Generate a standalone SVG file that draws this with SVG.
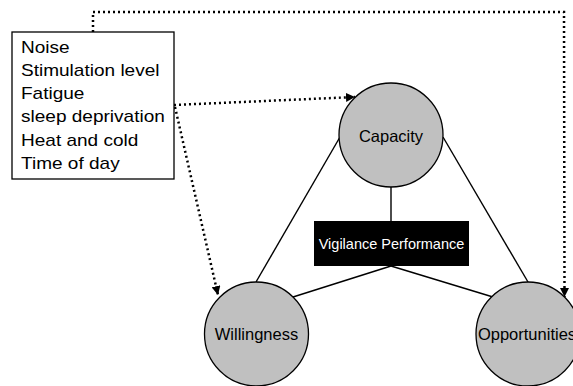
<svg xmlns="http://www.w3.org/2000/svg" width="573" height="386" viewBox="0 0 573 386">
<defs>
<marker id="ah" viewBox="0 0 10 10" refX="10" refY="5" markerWidth="9" markerHeight="9" markerUnits="userSpaceOnUse" orient="auto">
<path d="M0,0 L10,5 L0,10 z" fill="#000"/>
</marker>
<style>
.lbl{font-family:"Liberation Sans",Arial,sans-serif;fill:#000}
.circ{fill:#c0c0c0;stroke:#000;stroke-width:1.3}
.solid{stroke:#000;stroke-width:1.4;fill:none}
.dot{stroke:#000;stroke-width:2.5;fill:none;stroke-dasharray:2 3}
</style>
</defs>
<rect width="573" height="386" fill="#fff"/>
<g id="connectors">
<line class="solid" x1="340" y1="137" x2="256" y2="282"/>
<line class="solid" x1="443" y1="137" x2="528" y2="282"/>
<line class="solid" x1="391" y1="187" x2="391" y2="221"/>
<line class="solid" x1="391" y1="266" x2="293" y2="297"/>
<line class="solid" x1="391" y1="266" x2="493" y2="297"/>
<path class="dot" d="M93,32 L93,12 L564,12 L564.5,297" marker-end="url(#ah)"/>
<path class="dot" d="M174,105 L355,97" marker-end="url(#ah)"/>
<path class="dot" d="M175,107 L218,295" marker-end="url(#ah)"/>
</g>
<g id="factors">
<rect x="12" y="32" width="162" height="147" fill="#fff" stroke="#000" stroke-width="1.3"/>
<g transform="translate(21,0) scale(1.12,1)" class="lbl" font-size="17">
<text x="0" y="53">Noise</text>
<text x="0" y="76">Stimulation level</text>
<text x="0" y="99">Fatigue</text>
<text x="0" y="122">sleep deprivation</text>
<text x="0" y="146">Heat and cold</text>
<text x="0" y="169">Time of day</text>
</g>
</g>
<g id="capacity">
<circle class="circ" cx="391" cy="135" r="52"/>
<text class="lbl" x="391" y="142" font-size="16.5" text-anchor="middle">Capacity</text>
</g>
<g id="vigilance">
<rect x="314" y="221" width="155" height="45" fill="#000"/>
<text class="lbl" x="391.5" y="249" font-size="14.5" text-anchor="middle" style="fill:#fff">Vigilance Performance</text>
</g>
<g id="willingness">
<circle class="circ" cx="256.5" cy="334" r="52"/>
<text class="lbl" x="256.5" y="340" font-size="16.5" text-anchor="middle">Willingness</text>
</g>
<g id="opportunities">
<circle class="circ" cx="528" cy="334" r="52"/>
<text class="lbl" x="527" y="340" font-size="16.5" text-anchor="middle">Opportunities</text>
</g>
</svg>
